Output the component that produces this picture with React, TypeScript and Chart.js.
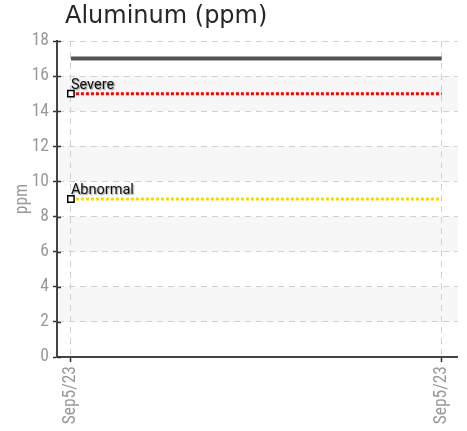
import { useEffect, useRef } from 'react';
import { Chart, registerables } from 'chart.js';

Chart.register(...registerables);

const chartTitle = 'Aluminum (ppm)';
const yAxisTitle = 'ppm';
const dates = ['Sep5/23', 'Sep5/23'];
const aluminum = [17, 17];
const severeLimit = [15, 15];
const abnormalLimit = [9, 9];
const limitLabels = ['Severe', 'Abnormal'];
const yMin = 0;
const yMax = 18;
const yStep = 2;

const TICK_FONT = "'Roboto Condensed', 'DejaVu Sans Condensed', sans-serif";
const LABEL_FONT = "Roboto, sans-serif";
const TITLE_FONT = "'DejaVu Sans', sans-serif";

const bandPlugin = {
  id: 'bands',
  beforeDraw(chart: any) {
    const { ctx, chartArea, scales } = chart;
    const y = scales.y;
    const ticks = y.ticks;
    ctx.save();
    ctx.fillStyle = '#f7f7f7';
    for (let i = 1; i < ticks.length - 1; i += 2) {
      const top = y.getPixelForValue(ticks[i + 1].value);
      const bot = y.getPixelForValue(ticks[i].value);
      ctx.fillRect(chartArea.left, top, chartArea.right - chartArea.left, bot - top);
    }
    ctx.restore();
  },
};

const innerTickPlugin = {
  id: 'innerTicks',
  afterDraw(chart: any) {
    const { ctx, chartArea, scales } = chart;
    const y = scales.y;
    ctx.save();
    ctx.strokeStyle = '#333';
    ctx.lineWidth = 1.5;
    ctx.beginPath();
    y.ticks.forEach((t: any) => {
      const py = Math.round(y.getPixelForValue(t.value)) + 0.5;
      ctx.moveTo(chartArea.left, py);
      ctx.lineTo(chartArea.left + 4, py);
    });
    ctx.stroke();
    ctx.restore();
  },
};

const textPlugin = {
  id: 'texts',
  afterDatasetsDraw(chart: any) {
    const { ctx } = chart;
    ctx.save();
    ctx.font = `14.5px ${LABEL_FONT}`;
    ctx.fillStyle = '#111';
    ctx.textAlign = 'left';
    ctx.textBaseline = 'alphabetic';
    chart.data.datasets.forEach((ds: any, i: number) => {
      if (!ds.limitLabel) return;
      const meta = chart.getDatasetMeta(i);
      const p = meta.data[0];
      if (!p) return;
      ctx.shadowColor = 'rgba(0,0,0,0.45)';
      ctx.shadowBlur = 1.5;
      ctx.shadowOffsetX = 1;
      ctx.shadowOffsetY = 1;
      ctx.fillText(ds.limitLabel, p.x, p.y - 5);
    });
    ctx.restore();
  },
  afterDraw(chart: any) {
    const { ctx, chartArea } = chart;
    ctx.save();
    ctx.font = `24px ${TITLE_FONT}`;
    ctx.fillStyle = '#262626';
    ctx.textAlign = 'left';
    ctx.textBaseline = 'alphabetic';
    ctx.fillText(chartTitle, chartArea.left + 8, chartArea.top - 18);
    ctx.restore();
  },
};

export default function App() {
  const ref = useRef<HTMLCanvasElement | null>(null);

  useEffect(() => {
    if (!ref.current) return;
    const toPts = (arr: number[]) => arr.map((v, i) => ({ x: i, y: v }));
    const limitStyle = {
      borderWidth: 3,
      borderDash: [3, 2],
      pointStyle: 'rect',
      pointRadius: [4.5, 0],
      pointBorderWidth: 1.5,
      pointBorderColor: '#000',
      pointBackgroundColor: '#fff',
      fill: false,
    };
    const chart = new Chart(ref.current, {
      type: 'line',
      data: {
        datasets: [
          {
            label: chartTitle,
            data: toPts(aluminum),
            borderColor: '#555555',
            borderWidth: 4,
            pointRadius: 0,
            fill: false,
          },
          {
            ...limitStyle,
            label: limitLabels[0],
            limitLabel: limitLabels[0],
            data: toPts(severeLimit),
            borderColor: '#ff0000',
          } as any,
          {
            ...limitStyle,
            label: limitLabels[1],
            limitLabel: limitLabels[1],
            data: toPts(abnormalLimit),
            borderColor: '#ffd700',
          } as any,
        ],
      },
      options: {
        responsive: false,
        animation: false,
        layout: { padding: { top: 41, right: 7, left: 0, bottom: 0 } },
        plugins: {
          legend: { display: false },
          tooltip: { enabled: false },
          title: { display: false },
        },
        scales: {
          x: {
            type: 'linear',
            min: -0.0375,
            max: 1.043,
            afterBuildTicks: (s: any) => {
              s.ticks = dates.map((_, i) => ({ value: i }));
            },
            afterFit: (s: any) => {
              s.height = 74;
            },
            ticks: {
              autoSkip: false,
              maxRotation: 90,
              minRotation: 90,
              color: '#999',
              font: { family: TICK_FONT, size: 17.5 },
              padding: 4,
              callback: (v: any) => dates[v as number] ?? '',
            },
            grid: {
              color: '#d0d0d0',
              lineWidth: 1,
              tickColor: '#333',
              tickLength: 5,
              tickWidth: 1.5,
            },
            border: { display: true, color: '#444', width: 2, dash: [6, 5] },
          },
          y: {
            min: yMin,
            max: yMax,
            afterFit: (s: any) => {
              s.width = 57;
            },
            ticks: {
              stepSize: yStep,
              color: '#999',
              font: { family: TICK_FONT, size: 17.5 },
              padding: 4,
            },
            grid: {
              color: '#d0d0d0',
              lineWidth: 1,
              tickColor: '#333',
              tickLength: 4,
              tickWidth: 1.5,
            },
            border: { display: true, color: '#444', width: 2, dash: [6, 5] },
            title: {
              display: true,
              text: yAxisTitle,
              color: '#999',
              font: { family: TICK_FONT, size: 17.5 },
              padding: { top: 12, bottom: 0 },
            },
          },
        },
      } as any,
      plugins: [bandPlugin, innerTickPlugin, textPlugin],
    });
    return () => chart.destroy();
  }, []);

  return (
    <div style={{ position: 'fixed', left: 0, top: 0, width: 467, height: 431, background: '#fff' }}>
      <canvas ref={ref} width={467} height={431} />
    </div>
  );
}
